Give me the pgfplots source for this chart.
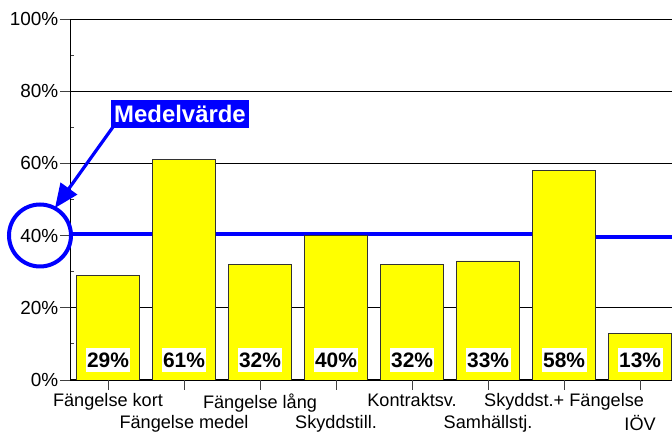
\documentclass[border=0pt]{standalone}
\usepackage{pgfplots}
\pgfplotsset{compat=1.18}
\usepackage{fontspec}
\setmainfont{Liberation Sans}
\usetikzlibrary{arrows.meta}
\definecolor{barY}{RGB}{255,255,0}
\definecolor{meanB}{RGB}{0,0,255}
\begin{document}
\begin{tikzpicture}[x=1bp,y=1bp]
\begin{axis}[
  at={(70bp,54bp)}, anchor=south west,
  scale only axis, width=602bp, height=361bp,
  xmin=-0.5, xmax=7.42, ymin=0, ymax=100,
  axis lines=left, axis line style={-, black, line width=1bp},
  ytick={0,20,40,60,80,100},
  yticklabels={0\%,20\%,40\%,60\%,80\%,100\%},
  minor ytick={10,30,50,70,90},
  ymajorgrids, major grid style={black, line width=0.9bp},
  xtick={0,1,2,3,4,5,6,7},
  xticklabels={{Fängelse kort\\\strut},{\strut\\Fängelse medel},{Fängelse lång\\\strut},{\strut\\Skyddstill.},{Kontraktsv.\\\strut},{\strut\\Samhällstj.},{Skyddst.+ Fängelse\\\strut},{\strut\\IÖV}},
  tick align=outside, major tick length=10bp, minor tick length=-4bp,
  tick style={black!75, line width=0.8bp},
  yticklabel style={font=\fontsize{19}{22}\selectfont, inner sep=1.5bp},
  xticklabel style={font=\fontsize{18.2}{20.5}\selectfont, align=center, anchor=north, yshift=-2.5bp, inner ysep=1bp},
]
\addplot[meanB, line width=4.5bp] coordinates {(-0.5,40.4) (6,40.4) (6,39.6) (7.42,39.6)};
\addplot[ybar, bar width=0.83, fill=barY, draw=black!80, line width=0.6bp] coordinates {(0,29) (1,61) (2,32) (3,40) (4,32) (5,33) (6,58) (7,13)};
\addplot[draw=none, point meta=explicit symbolic, nodes near coords={\pgfplotspointmeta\%},
  every node near coord/.append style={anchor=center, fill=white, text=black, font=\bfseries\fontsize{21}{24}\selectfont, inner xsep=1.5bp, inner ysep=4.5bp}]
  coordinates {(0,5.5)[29] (1,5.5)[61] (2,5.5)[32] (3,5.5)[40] (4,5.5)[32] (5,5.5)[33] (6,5.5)[58] (7,5.5)[13]};
\end{axis}
\draw[meanB, line width=4bp] (40,198.5) circle (31);
\draw[meanB, line width=3.2bp, -{Triangle[length=24bp,width=20bp]}] (113,307) -- (55,226);
\node[fill=meanB, text=white, font=\bfseries\fontsize{24}{26}\selectfont, minimum width=138bp, minimum height=28bp, inner sep=0pt] at (180,320) {Medelvärde};
\pgfresetboundingbox
\path[use as bounding box] (0,0) rectangle (672,434);
\end{tikzpicture}
\end{document}
